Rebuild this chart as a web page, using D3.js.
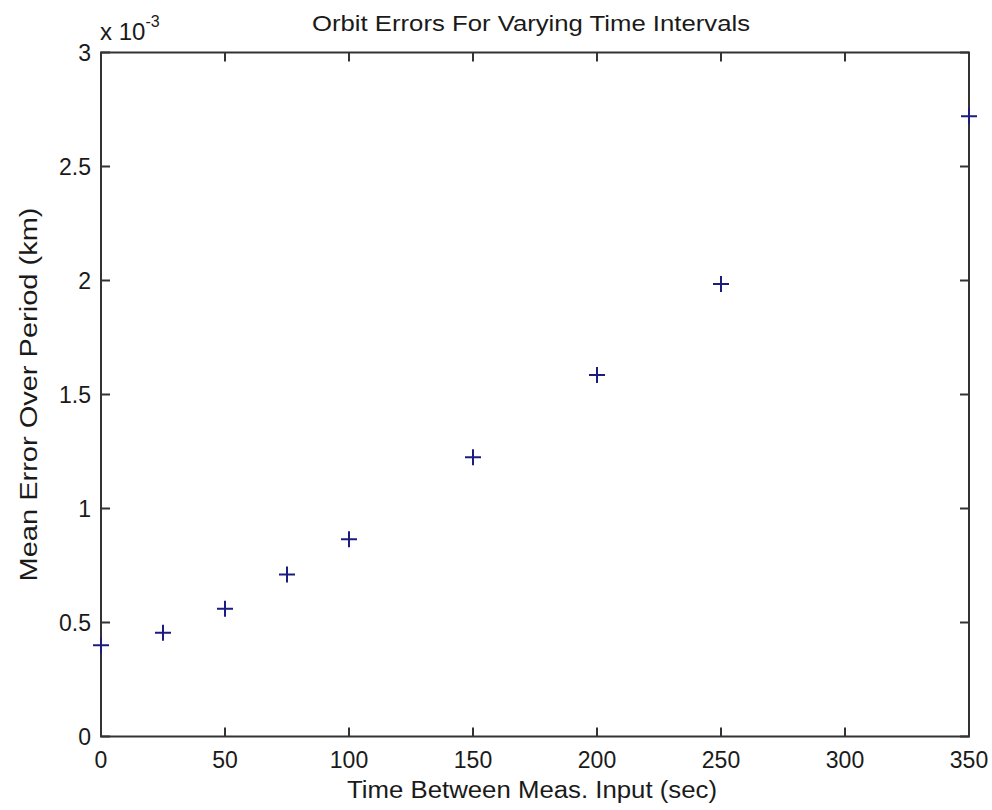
<!DOCTYPE html>
<html>
<head>
  <script src="https://cdn.jsdelivr.net/npm/d3@7"></script>
  <style>
    body { margin: 0; background: #fff; }
    text { font-family: "Liberation Sans", Arial, sans-serif; fill: #1a1a1a; }
  </style>
</head>
<body>
  <script>
    // data (mean error, units of 1e-3 km)
    var intervals = [0, 25, 50, 75, 100, 150, 200, 250, 350];
    var meanError = [0.40, 0.455, 0.56, 0.71, 0.865, 1.225, 1.585, 1.985, 2.72];
    var xTicks = [0, 50, 100, 150, 200, 250, 300, 350];
    var yTicks = [0, 0.5, 1, 1.5, 2, 2.5, 3];

    var width = 992, height = 810;
    // plot box edges (window.top is reserved, so use a small object)
    var box = {l: 101, r: 969, t: 52.5, b: 736.5};

    var svg = d3.select("body")
      .append("svg")
      .attr("width", width)
      .attr("height", height);

    var x = d3.scaleLinear().domain([0, 350]).range([box.l, box.r]);
    var y = d3.scaleLinear().domain([0, 3]).range([box.b, box.t]);

    var tickLen = 9;

    // box
    svg.append("rect")
      .attr("x", box.l).attr("y", box.t)
      .attr("width", box.r - box.l).attr("height", box.b - box.t)
      .attr("fill", "none")
      .attr("stroke", "#333")
      .attr("stroke-width", 2);

    // x ticks, bottom and top, pointing inward
    var xt = svg.append("g").selectAll("g")
      .data(xTicks)
      .enter().append("g");
    xt.append("line")
      .attr("x1", d => x(d)).attr("x2", d => x(d))
      .attr("y1", box.b).attr("y2", box.b - tickLen)
      .attr("stroke", "#333").attr("stroke-width", 2);
    xt.append("line")
      .attr("x1", d => x(d)).attr("x2", d => x(d))
      .attr("y1", box.t).attr("y2", box.t + tickLen)
      .attr("stroke", "#333").attr("stroke-width", 2);
    xt.append("text")
      .attr("x", d => x(d))
      .attr("y", box.b + 31)
      .attr("text-anchor", "middle")
      .style("font-size", "23px")
      .text(d => d);

    // y ticks, left and right
    var yt = svg.append("g").selectAll("g")
      .data(yTicks)
      .enter().append("g");
    yt.append("line")
      .attr("x1", box.l).attr("x2", box.l + tickLen)
      .attr("y1", d => y(d)).attr("y2", d => y(d))
      .attr("stroke", "#333").attr("stroke-width", 2);
    yt.append("line")
      .attr("x1", box.r).attr("x2", box.r - tickLen)
      .attr("y1", d => y(d)).attr("y2", d => y(d))
      .attr("stroke", "#333").attr("stroke-width", 2);
    yt.append("text")
      .attr("x", box.l - 10)
      .attr("y", d => y(d) + 8)
      .attr("text-anchor", "end")
      .style("font-size", "23px")
      .text(d => d);

    // exponent label
    var expo = svg.append("text")
      .attr("x", 100)
      .attr("y", 40)
      .style("font-size", "24px");
    expo.append("tspan").text("x 10");
    expo.append("tspan")
      .attr("dy", -13)
      .style("font-size", "16px")
      .text("-3");

    // markers
    var pts = intervals.map((d, i) => ({t: d, e: meanError[i]}));
    var s = 8;
    svg.append("g").selectAll("path")
      .data(pts)
      .enter().append("path")
      .attr("d", d => {
        var cx = x(d.t), cy = y(d.e);
        return "M" + (cx - s) + "," + cy + "H" + (cx + s) +
               "M" + cx + "," + (cy - s) + "V" + (cy + s);
      })
      .attr("stroke", "#1c1c80")
      .attr("stroke-width", 2)
      .attr("fill", "none");

    // title and axis labels
    svg.append("text")
      .attr("x", 531)
      .attr("y", 31)
      .attr("text-anchor", "middle")
      .attr("textLength", 438)
      .attr("lengthAdjust", "spacingAndGlyphs")
      .style("font-size", "22px")
      .text("Orbit Errors For Varying Time Intervals");

    svg.append("text")
      .attr("x", 532)
      .attr("y", 798)
      .attr("text-anchor", "middle")
      .attr("textLength", 370)
      .attr("lengthAdjust", "spacingAndGlyphs")
      .style("font-size", "23px")
      .text("Time Between Meas. Input (sec)");

    svg.append("text")
      .attr("transform", "translate(37," + ((box.t + box.b) / 2) + ") rotate(-90)")
      .attr("text-anchor", "middle")
      .attr("textLength", 374)
      .attr("lengthAdjust", "spacingAndGlyphs")
      .style("font-size", "23px")
      .text("Mean Error Over Period (km)");
  </script>
</body>
</html>
